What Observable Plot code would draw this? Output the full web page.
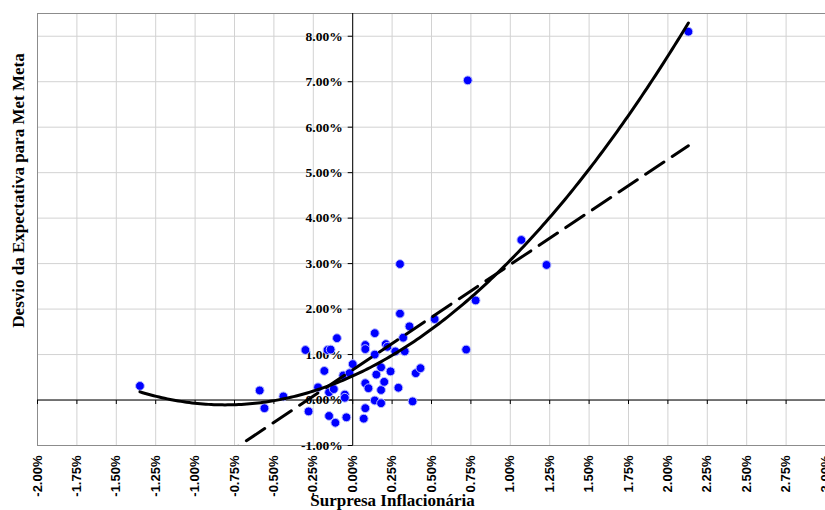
<!DOCTYPE html>
<html><head><meta charset="utf-8">
<script src="https://cdn.jsdelivr.net/npm/d3@7"></script>
<script src="https://cdn.jsdelivr.net/npm/@observablehq/plot@0.6"></script>
<style>body{margin:0;background:#fff} #chart svg{display:block}</style>
</head><body><div id="chart"></div>
<script>
// Data (values in %)
const surpresa = [-1.35,-0.59,-0.56,-0.44,-0.30,-0.28,-0.22,-0.18,-0.16,-0.14,-0.15,-0.12,-0.15,-0.11,-0.10,-0.05,-0.05,-0.04,-0.06,-0.02,
  0.00,0.07,0.08,0.08,0.10,0.08,0.08,0.14,0.14,0.14,0.15,0.18,0.18,0.18,0.20,0.21,0.22,0.24,0.27,0.29,
  0.30,0.30,0.32,0.33,0.36,0.38,0.40,0.43,0.52,0.72,0.73,0.78,1.07,1.23,2.13];
const desvio = [0.31,0.21,-0.18,0.08,1.10,-0.25,0.28,0.64,1.10,1.11,0.17,0.24,-0.35,-0.50,1.36,0.12,0.05,-0.38,0.54,0.59,
  0.79,-0.41,-0.18,0.37,0.26,1.21,1.12,1.47,1.00,-0.01,0.56,0.72,0.22,-0.07,0.40,1.23,1.17,0.63,1.07,0.27,
  1.90,2.99,1.37,1.07,1.62,-0.03,0.59,0.70,1.78,1.11,7.03,2.19,3.52,2.97,8.10];
const xTickValues = [-2,-1.75,-1.5,-1.25,-1,-0.75,-0.5,-0.25,0,0.25,0.5,0.75,1,1.25,1.5,1.75,2,2.25,2.5,2.75,3];
const xTickLabels = ["-2.00%","-1.75%","-1.50%","-1.25%","-1.00%","-0.75%","-0.50%","-0.25%","0.00%","0.25%","0.50%","0.75%","1.00%","1.25%","1.50%","1.75%","2.00%","2.25%","2.50%","2.75%","3.00%"];
const yTickValues = [-1,0,1,2,3,4,5,6,7,8];
const yTickLabels = ["-1.00%","0.00%","1.00%","2.00%","3.00%","4.00%","5.00%","6.00%","7.00%","8.00%"];
const xDomain = [-2, 3];
const yDomain = [-1, 8.5];
const xTitle = "Surpresa Inflacionária";
const yTitle = "Desvio da Expectativa para Met Meta";

const points = surpresa.map((x, i) => ({x, y: desvio[i]}));

// Least-squares trendlines computed from the data (linear and 2nd-order polynomial)
const n = points.length;
const S = k => d3.sum(points, p => p.x ** k);
const T = k => d3.sum(points, p => p.y * p.x ** k);
const lb = (n * T(1) - S(1) * T(0)) / (n * S(2) - S(1) ** 2);
const la = (T(0) - lb * S(1)) / n;
function solve3(A, b) {
  const M = A.map((r, i) => [...r, b[i]]);
  for (let c = 0; c < 3; c++) {
    let p = c; for (let r = c + 1; r < 3; r++) if (Math.abs(M[r][c]) > Math.abs(M[p][c])) p = r;
    [M[c], M[p]] = [M[p], M[c]];
    for (let r = 0; r < 3; r++) if (r !== c) { const f = M[r][c] / M[c][c]; for (let k = c; k < 4; k++) M[r][k] -= f * M[c][k]; }
  }
  return M.map((r, i) => r[3] / r[i]);
}
const [q0, q1, q2] = solve3([[n, S(1), S(2)], [S(1), S(2), S(3)], [S(2), S(3), S(4)]], [T(0), T(1), T(2)]);
const [xmin, xmax] = d3.extent(surpresa);
const quadCurve = d3.range(0, 201).map(i => { const x = xmin + (xmax - xmin) * i / 200; return {x, y: q0 + q1 * x + q2 * x * x}; });
const linCurve = [xmin, xmax].map(x => ({x, y: la + lb * x}));

const tickLeft = {draw(ctx) { ctx.moveTo(0, 0); ctx.lineTo(-5, 0); }};
const tickDown = {draw(ctx) { ctx.moveTo(0, 0); ctx.lineTo(0, 4); }};
const serif = "'Liberation Serif', 'Times New Roman', serif";
const sans = "'Liberation Sans', Arial, sans-serif";

const chart = Plot.plot({
  width: 825, height: 510,
  marginLeft: 37, marginRight: 0, marginTop: 13, marginBottom: 65,
  x: {domain: xDomain, axis: null},
  y: {domain: yDomain, axis: null},
  style: {background: "#fff"},
  marks: [
    Plot.ruleX(xTickValues, {stroke: "#d2d2d2", strokeWidth: 1}),
    Plot.ruleY(yTickValues, {stroke: "#d2d2d2", strokeWidth: 1}),
    Plot.frame({stroke: "#8c8c8c", strokeWidth: 1}),
    Plot.ruleY([0], {stroke: "#000", strokeWidth: 1}),
    Plot.ruleX([0], {stroke: "#000", strokeWidth: 1}),
    Plot.dot(yTickValues, {x: 0, y: d => d, symbol: tickLeft, fill: "none", stroke: "#000", strokeWidth: 1}),
    Plot.dot(xTickValues, {x: d => d, y: 0, symbol: tickDown, fill: "none", stroke: "#000", strokeWidth: 1}),
    Plot.text(yTickValues, {x: 0, y: d => d, text: (d, i) => yTickLabels[i], textAnchor: "end", dx: -10,
      fontFamily: serif, fontWeight: "bold", fontSize: 13.5, fill: "#000"}),
    Plot.text(xTickValues, {x: d => d, frameAnchor: "bottom", text: (d, i) => xTickLabels[i], rotate: -90,
      textAnchor: "end", lineAnchor: "middle", dy: 10,
      fontFamily: sans, fontWeight: "bold", fontSize: 13, fill: "#000"}),
    Plot.text([xTitle], {frameAnchor: "bottom", text: d => d, textAnchor: "middle", lineAnchor: "middle", dx: -39, dy: 55,
      fontFamily: serif, fontWeight: "bold", fontSize: 17, fill: "#000"}),
    Plot.text([yTitle], {frameAnchor: "left", text: d => d, rotate: -90, textAnchor: "middle", lineAnchor: "middle", dx: -19, dy: -39,
      fontFamily: serif, fontWeight: "bold", fontSize: 17, fill: "#000"}),
    Plot.dot(points, {x: "x", y: "y", r: 4.4, fill: "#0000ff", stroke: "#b8bcff", strokeWidth: 1}),
    Plot.line(linCurve, {x: "x", y: "y", stroke: "#000", strokeWidth: 3, strokeDasharray: "22,10", clip: true}),
    Plot.line(quadCurve, {x: "x", y: "y", stroke: "#000", strokeWidth: 3, clip: true})
  ]
});
document.getElementById("chart").appendChild(chart);
</script>
</body></html>
